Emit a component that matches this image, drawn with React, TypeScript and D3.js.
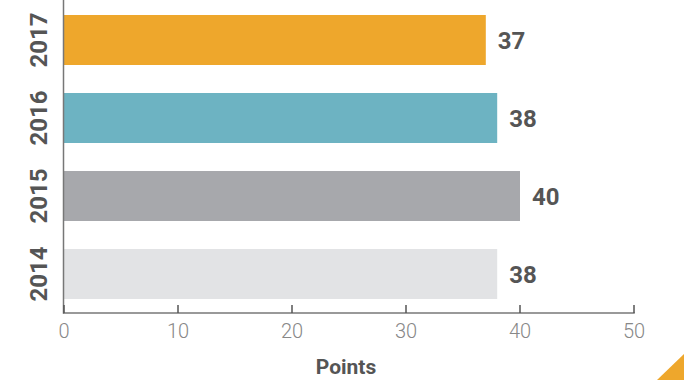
import React from "react";
import * as d3 from "d3";

const years = ["2017", "2016", "2015", "2014"];
const points = [37, 38, 40, 38];
const barColors = ["#EEA72C", "#6DB3C2", "#A7A8AC", "#E2E3E5"];
const xTicks = [0, 10, 20, 30, 40, 50];
const xLabel = "Points";

export default function App() {
  const W = 684, H = 380;
  const x = d3.scaleLinear().domain([0, 50]).range([64, 634]);
  const y = d3.scaleBand<string>().domain(years).range([1, 313]).paddingInner(0.359).paddingOuter(0.1795);
  const axisY = 313;
  const font = "Roboto, 'Noto Sans', sans-serif";
  return (
    <svg width={W} height={H} style={{ position: "absolute", left: 0, top: 0, display: "block" }}>
      {years.map((yr, i) => (
        <g key={yr}>
          <rect x={x(0)} y={y(yr)!} width={x(points[i]) - x(0)} height={y.bandwidth()} fill={barColors[i]} />
          <text x={x(points[i]) + 12} y={y(yr)! + y.bandwidth() / 2} dy="0.36em" fontFamily={font} fontWeight={700} fontSize={24} fill="#555">
            {points[i]}
          </text>
          <text transform={`translate(${47},${y(yr)! + y.bandwidth() / 2}) rotate(-90)`} textAnchor="middle" fontFamily={font} fontWeight={700} fontSize={24} fill="#555">
            {yr}
          </text>
        </g>
      ))}
      <line x1={63.5} x2={63.5} y1={0} y2={axisY + 0.75} stroke="#777" strokeWidth={1.5} />
      <line x1={63} x2={x(50) + 0.75} y1={axisY} y2={axisY} stroke="#777" strokeWidth={1.5} />
      {xTicks.map((t) => (
        <g key={t}>
          <line x1={x(t)} x2={x(t)} y1={axisY - 8} y2={axisY} stroke="#555" strokeWidth={1.5} />
          <text x={x(t)} y={338} textAnchor="middle" fontFamily={font} fontWeight={300} fontSize={20} fill="#888">
            {t}
          </text>
        </g>
      ))}
      <text x={346} y={374} textAnchor="middle" fontFamily={font} fontWeight={700} fontSize={21} fill="#555">
        {xLabel}
      </text>
      <polygon points={`${W},354 ${W},${H} 657,${H}`} fill="#EEA72C" />
    </svg>
  );
}
